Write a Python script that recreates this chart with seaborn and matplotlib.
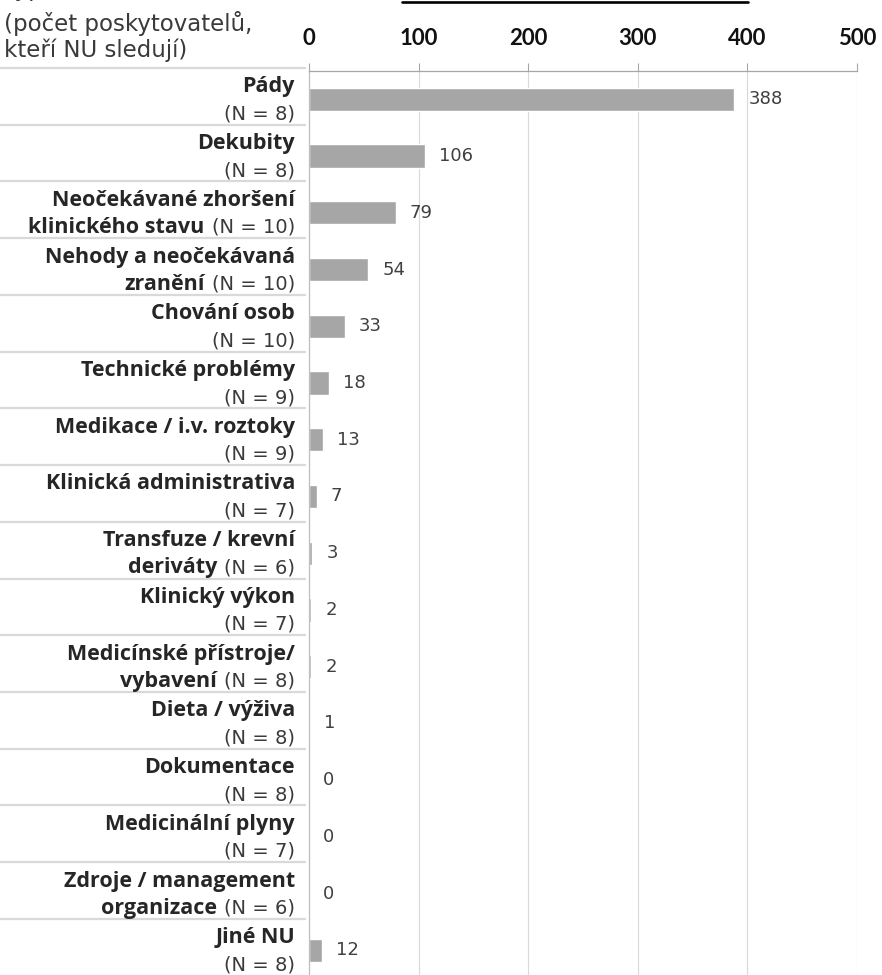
import matplotlib
matplotlib.use("Agg")
import matplotlib.pyplot as plt
import seaborn as sns
import pandas as pd
from matplotlib.transforms import blended_transform_factory, offset_copy
from matplotlib.lines import Line2D

# ---- data ----
name_line1 = ["Pády", "Dekubity", "Neočekávané zhoršení", "Nehody a neočekávaná",
              "Chování osob", "Technické problémy", "Medikace / i.v. roztoky",
              "Klinická administrativa", "Transfuze / krevní", "Klinický výkon",
              "Medicínské přístroje/", "Dieta / výživa", "Dokumentace",
              "Medicinální plyny", "Zdroje / management", "Jiné NU"]
name_line2 = ["", "", "klinického stavu", "zranění", "", "", "", "", "deriváty", "",
              "vybavení", "", "", "", "organizace", ""]
n_providers = [8, 8, 10, 10, 10, 9, 9, 7, 6, 7, 8, 8, 8, 7, 6, 8]
events = [388, 106, 79, 54, 33, 18, 13, 7, 3, 2, 2, 1, 0, 0, 0, 12]
x_ticks = [0, 100, 200, 300, 400, 500]
header_lines = ["(počet poskytovatelů,", "kteří NU sledují)"]

df = pd.DataFrame({"kategorie": name_line1, "pocet": events})

# ---- figure ----
W, H, DPI = 882, 975, 100
sns.set_theme(style="white")
plt.rcParams["font.family"] = ["Open Sans", "DejaVu Sans"]
fig = plt.figure(figsize=(W / DPI, H / DPI), dpi=DPI)

row_px = 56.73
top_px = 71
ax_h = 16 * row_px
ax = fig.add_axes([309 / W, 1 - (top_px + ax_h) / H, (857 - 309) / W, ax_h / H])

sns.barplot(data=df, y="kategorie", x="pocet", orient="h", color="#a6a6a6",
            saturation=1, width=0.41, ax=ax, order=name_line1)

ax.set_xlim(0, 500)
ax.set_ylim(15.5, -0.5)
ax.set_xlabel("")
ax.set_ylabel("")
ax.set_yticks(range(16))
ax.set_yticklabels([])
ax.tick_params(axis="y", length=0)

ax.xaxis.tick_top()
ax.set_xticks(x_ticks)
ax.set_xticklabels([str(t) for t in x_ticks], fontfamily="Lato", fontweight="bold",
                   fontsize=16, color="#111111")
ax.tick_params(axis="x", top=True, bottom=False, length=5.8, width=0.8,
               color="#a6a6a6", direction="out", pad=10)
ax.grid(axis="x", color="#d9d9d9", linewidth=0.8)
ax.grid(axis="y", visible=False)
ax.set_axisbelow(True)
for s in ["right", "bottom"]:
    ax.spines[s].set_visible(False)
ax.spines["top"].set_color("#a6a6a6")
ax.spines["top"].set_linewidth(0.9)
ax.spines["left"].set_color("#bfbfbf")
ax.spines["left"].set_linewidth(0.9)

# separators in label area
ytr = blended_transform_factory(ax.transAxes, ax.transData)
sep_tr = offset_copy(ytr, fig=fig, x=0, y=3, units="dots")
for k in range(17):
    ax.plot([-309 / 548, -4 / 548], [k - 0.5, k - 0.5], transform=sep_tr,
            color="#d9d9d9", linewidth=1.6, clip_on=False, zorder=1)

lab_color = "#262626"
n_color = "#3a3a3a"
fs_bold = 15.5
fs_norm = 14
for i in range(16):
    ax.annotate(name_line1[i], xy=(0, i), xycoords=ytr, xytext=(-14, 7),
                textcoords="offset pixels", ha="right", va="baseline",
                fontsize=fs_bold, fontweight="bold", color=lab_color,
                annotation_clip=False)
    ntxt = ax.annotate(f"(N = {n_providers[i]})", xy=(0, i), xycoords=ytr,
                       xytext=(-14, -20), textcoords="offset pixels", ha="right",
                       va="baseline", fontsize=fs_norm, fontfamily="DejaVu Sans",
                       color=n_color, annotation_clip=False)
    if name_line2[i]:
        ax.annotate(name_line2[i], xy=(0, i), xycoords=(ntxt, ax.transData),
                    xytext=(-7, -20), textcoords="offset pixels", ha="right",
                    va="baseline", fontsize=fs_bold, fontweight="bold",
                    color=lab_color, annotation_clip=False)
    # value label
    ax.annotate(str(events[i]), xy=(events[i], i), xycoords="data",
                xytext=(14, 0), textcoords="offset pixels", ha="left",
                va="center", fontsize=13, fontfamily="DejaVu Sans",
                color="#404040", annotation_clip=False)

# header text (top-left)
fig.text(4 / W, 1 - 31 / H, header_lines[0], fontsize=16.5, color="#3a3a3a",
         fontfamily="DejaVu Sans", ha="left", va="baseline")
fig.text(4 / W, 1 - 57 / H, header_lines[1], fontsize=16.5, color="#3a3a3a",
         fontfamily="DejaVu Sans", ha="left", va="baseline")
fig.text(4 / W, 1 + 4 / H, "Typ NU", fontsize=16.5, color="#3a3a3a",
         fontfamily="DejaVu Sans", ha="left", va="baseline")

# cut-off underlined title
fig.add_artist(Line2D([402 / W, 748 / W], [1 - 1.5 / H, 1 - 1.5 / H],
                      transform=fig.transFigure, color="black", linewidth=1.9))

fig.savefig("out.png", dpi=DPI)
